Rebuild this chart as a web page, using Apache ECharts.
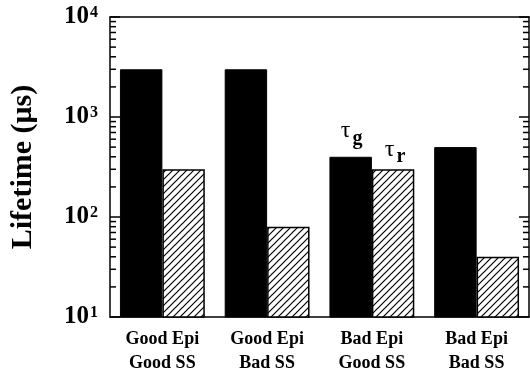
<!DOCTYPE html>
<html>
<head>
<meta charset="utf-8">
<script src="https://cdn.jsdelivr.net/npm/echarts@6/dist/echarts.min.js"></script>
<style>html,body{margin:0;padding:0;background:#fff;}#c{width:530px;height:378px;}</style>
</head>
<body>
<div id="c"></div>
<script>
const categories = ['Good Epi\nGood SS', 'Good Epi\nBad SS', 'Bad Epi\nGood SS', 'Bad Epi\nBad SS'];
const tauG = [3000, 3000, 400, 500];
const tauR = [300, 80, 300, 40];
const legendIndex = 2;
const minorTickValues = [20,30,40,50,60,70,80,90,200,300,400,500,600,700,800,900,2000,3000,4000,5000,6000,7000,8000,9000];
const yTitle = 'Lifetime (μs)';

const serif = "'Liberation Serif', 'Times New Roman', 'DejaVu Serif', serif";
const chart = echarts.init(document.getElementById('c'), null, {renderer: 'canvas'});

// hatch tile: "/" diagonal lines
function hatchTile() {
  const n = 7;
  const c = document.createElement('canvas');
  c.width = n; c.height = n;
  const g = c.getContext('2d');
  g.fillStyle = '#fff'; g.fillRect(0, 0, n, n);
  g.strokeStyle = '#000'; g.lineWidth = 1.2;
  g.beginPath();
  g.moveTo(-1, n + 1); g.lineTo(n + 1, -1);
  g.moveTo(-1, 1); g.lineTo(1, -1);
  g.moveTo(n - 1, n + 1); g.lineTo(n + 1, n - 1);
  g.stroke();
  return c;
}

function tauLabel(sub, offsetX, dist) {
  return {
    show: true, position: 'top', distance: dist, offset: [offsetX, 0],
    formatter: '{t|τ}{s|' + sub + '}',
    rich: {
      t: {fontFamily: serif, fontSize: 24, lineHeight: 12, verticalAlign: 'top', padding: [0, 2, 0, 0], color: '#000'},
      s: {fontFamily: serif, fontSize: 20, lineHeight: 30, fontWeight: 'bold', verticalAlign: 'bottom', color: '#000'}
    }
  };
}

const lineStyle = {color: '#000', width: 1.5};

chart.setOption({
  animation: false,
  backgroundColor: '#fff',
  grid: {left: 105, right: 1, top: 17, bottom: 61},
  xAxis: [{
    type: 'category', data: categories, position: 'bottom',
    axisLine: {show: true, lineStyle: lineStyle, onZero: false},
    axisTick: {show: false},
    axisLabel: {margin: 10, fontFamily: serif, fontWeight: 'bold', fontSize: 18, lineHeight: 24, color: '#000'}
  }, {
    type: 'category', data: categories, position: 'top',
    axisLine: {show: true, lineStyle: lineStyle, onZero: false},
    axisTick: {show: false}, axisLabel: {show: false}
  }],
  yAxis: [{
    type: 'log', logBase: 10, min: 10, max: 10000, position: 'left',
    name: yTitle, nameLocation: 'middle', nameGap: 72, nameRotate: 90,
    nameTextStyle: {fontFamily: serif, fontWeight: 'bold', fontSize: 30, color: '#000'},
    axisLine: {show: true, lineStyle: lineStyle},
    axisTick: {show: true, inside: true, length: 10, lineStyle: lineStyle},
    splitLine: {show: false},
    axisLabel: {
      margin: 12,
      formatter: function (v) { return '{b|10}{s|' + Math.round(Math.log10(v)) + '}'; },
      rich: {
        b: {fontFamily: serif, fontWeight: 'bold', fontSize: 25, lineHeight: 25, color: '#000', verticalAlign: 'bottom'},
        s: {fontFamily: serif, fontWeight: 'bold', fontSize: 16, lineHeight: 16, color: '#000', verticalAlign: 'top', padding: [0, 0, 6, 1]}
      }
    }
  }, {
    type: 'log', logBase: 10, min: 10, max: 10000, position: 'right',
    axisLine: {show: true, lineStyle: lineStyle},
    axisTick: {show: true, inside: true, length: 10, lineStyle: lineStyle},
    splitLine: {show: false}, axisLabel: {show: false}
  }],
  series: [{
    type: 'bar', name: 'τg', barGap: '0%', barCategoryGap: '19%',
    itemStyle: {color: '#000', borderColor: '#000', borderWidth: 1},
    data: tauG.map((v, i) => i === legendIndex ? {value: v, label: tauLabel('g', 1, 8)} : v)
  }, {
    type: 'bar', name: 'τr', barGap: '0%', barCategoryGap: '19%',
    itemStyle: {
      color: {image: hatchTile(), repeat: 'repeat'}, borderColor: '#000', borderWidth: 1.5
    },
    data: tauR.map((v, i) => i === legendIndex ? {value: v, label: tauLabel('r', 2, 2)} : v)
  }, {
    type: 'custom', silent: true, z: 5,
    encode: {x: 0, y: 1},
    data: minorTickValues.map(v => [0, v]),
    renderItem: function (params, api) {
      const y = api.coord([0, api.value(1)])[1];
      const cs = params.coordSys;
      return {type: 'group', children: [
        {type: 'line', shape: {x1: cs.x, y1: y, x2: cs.x + 6, y2: y}, style: {stroke: '#000', lineWidth: 1.5}},
        {type: 'line', shape: {x1: cs.x + cs.width - 6, y1: y, x2: cs.x + cs.width, y2: y}, style: {stroke: '#000', lineWidth: 1.5}}
      ]};
    }
  }]
});
</script>
</body>
</html>
